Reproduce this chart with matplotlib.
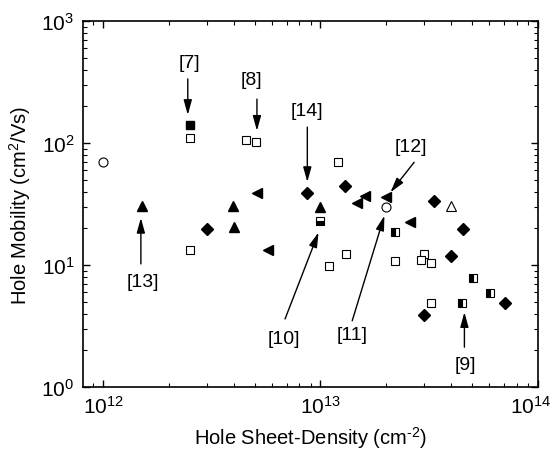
import matplotlib.pyplot as plt
from matplotlib.transforms import ScaledTranslation

plt.rcParams['font.family'] = ['Liberation Sans', 'DejaVu Sans']
plt.rcParams['mathtext.fontset'] = 'custom'
plt.rcParams['mathtext.rm'] = 'Liberation Sans'
plt.rcParams['mathtext.it'] = 'Liberation Sans'

# open circles
circ_x = [1.0e12, 2.0e13]
circ_y = [70, 29.7]
# filled square (ref 7)
fsq_x = [2.5e12]
fsq_y = [140]
# open squares
osq_x = [2.5e12, 4.53e12, 5.06e12, 2.5e12, 1.2e13, 1.1e13, 1.31e13,
         2.21e13, 3.0e13, 2.91e13, 3.23e13, 3.23e13]
osq_y = [110, 106, 102.5, 13.3, 69.5, 9.9, 12.3, 10.8, 12.3, 11.0, 10.4, 4.9]
# filled up-triangles
tri_x = [1.5e12, 3.97e12, 4.0e12, 1.0e13]
tri_y = [30.6, 30.6, 20.4, 29.7]
# open up-triangle
otri_x = [4.0e13]
otri_y = [30.6]
# filled diamonds
dia_x = [3.0e12, 8.65e12, 1.3e13, 3.32e13, 4.53e13, 4.0e13, 3.0e13, 7.05e13]
dia_y = [19.7, 38.7, 44.7, 33.7, 19.7, 11.8, 3.9, 4.85]
# left triangles
ltri_x = [5.09e12, 5.75e12, 1.6e13, 1.48e13, 2.01e13, 2.59e13]
ltri_y = [38.7, 13.3, 37.0, 32.0, 35.9, 22.4]
# bottom-half filled square (ref 10)
bsq_x = [1.0e13]
bsq_y = [22.8]
# left-half filled squares
lsq_x = [2.21e13, 5.04e13, 6.01e13, 4.49e13]
lsq_y = [18.8, 7.82, 5.86, 4.85]

# reference labels: text, label pos, arrow tail, arrow tip
refs = ['[7]', '[8]', '[14]', '[12]', '[13]', '[10]', '[11]', '[9]']
ref_text_xy = [(2.5e12, 461), (4.83e12, 330), (8.65e12, 186), (2.61e13, 94),
               (1.53e12, 7.35), (6.75e12, 2.51), (1.40e13, 2.67), (4.64e13, 1.54)]
ref_tail_xy = [(2.45e12, 335), (5.1e12, 229), (8.7e12, 135), (2.70e13, 69.5),
               (1.49e12, 10.2), (6.87e12, 3.61), (1.40e13, 3.49), (4.6e13, 2.12)]
ref_tip_xy = [(2.45e12, 170), (5.1e12, 126), (8.7e12, 47.9), (2.10e13, 39.4),
              (1.49e12, 24.3), (9.8e12, 18.5), (1.97e13, 25.4), (4.6e13, 4.1)]

fig = plt.figure(figsize=(5.56, 4.64), dpi=100)
ax = fig.add_axes([0.1487, 0.1638, 0.8183, 0.7888])

ax.plot(circ_x, circ_y, 'o', ms=6.5, mfc='white', mec='black', mew=0.8, ls='none')
ax.plot(fsq_x, fsq_y, 's', ms=6, mfc='black', mec='black', ls='none')
ax.plot(osq_x, osq_y, 's', ms=6, mfc='white', mec='black', mew=0.8, ls='none')
ax.plot(tri_x, tri_y, '^', ms=7.5, mfc='black', mec='black', ls='none')
ax.plot(otri_x, otri_y, '^', ms=7.5, mfc='white', mec='black', mew=0.8, ls='none')
ax.plot(dia_x, dia_y, 'D', ms=6, mfc='black', mec='black', ls='none')
ax.plot(ltri_x, ltri_y, '<', ms=7.5, mfc='black', mec='black', ls='none')
ax.plot(bsq_x, bsq_y, 's', ms=6, fillstyle='bottom', mfc='black', mfcalt='white',
        mec='black', mew=0.8, ls='none')
ax.plot(lsq_x, lsq_y, 's', ms=6, fillstyle='left', mfc='black', mfcalt='white',
        mec='black', mew=0.8, ls='none')

for txt, t_xy, a_xy, p_xy in zip(refs, ref_text_xy, ref_tail_xy, ref_tip_xy):
    ax.annotate('', xy=p_xy, xytext=a_xy,
                arrowprops=dict(arrowstyle='-|>,head_length=0.9,head_width=0.25',
                                color='black', lw=1.0,
                                mutation_scale=10, shrinkA=0, shrinkB=0))
    ax.text(t_xy[0], t_xy[1], txt, ha='center', va='center', fontsize=14)

ax.set_xscale('log')
ax.set_yscale('log')
ax.set_xlim(8.04e11, 1e14)
ax.set_ylim(1, 1000)
ax.set_xlabel(r'Hole Sheet-Density (cm$^{\text{-}2}$)', fontsize=14.5, labelpad=5)
ax.set_ylabel('Hole Mobility (cm$^2$/Vs)', fontsize=14.5, labelpad=6)
ax.tick_params(which='both', direction='in', top=True, right=True, labelsize=15)
ax.tick_params(which='major', length=5, width=1, pad=6)
ax.tick_params(which='minor', length=3, width=0.8)
for s in ax.spines.values():
    s.set_linewidth(1.2)

# nudge the 10^14 label so it stays inside the canvas
fig.canvas.draw()
last = ax.get_xticklabels()[-1]
for lab in ax.get_xticklabels():
    if lab.get_position()[0] >= 1e14:
        lab.set_transform(lab.get_transform() + ScaledTranslation(-5 / 72, 0, fig.dpi_scale_trans))

fig.savefig('out.png', dpi=100)
